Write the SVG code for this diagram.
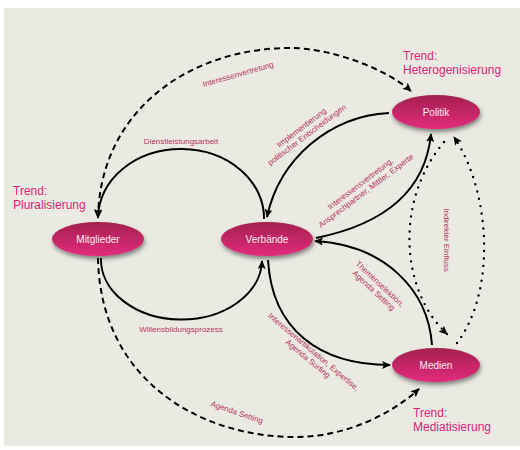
<svg xmlns="http://www.w3.org/2000/svg" width="520" height="450" viewBox="0 0 520 450">
<defs>
<linearGradient id="g" x1="0" y1="0" x2="0" y2="1">
<stop offset="0" stop-color="#A3214E"/>
<stop offset="1" stop-color="#E32B7D"/>
</linearGradient>
<filter id="sh" x="-20%" y="-30%" width="140%" height="180%">
<feDropShadow dx="1" dy="3" stdDeviation="2" flood-color="#333" flood-opacity="0.55"/>
</filter>
<marker id="ah" markerUnits="userSpaceOnUse" markerWidth="10" markerHeight="8" refX="8" refY="4" orient="auto-start-reverse">
<path d="M0,0 L9,4 L0,8 L2,4 z" fill="#000"/>
</marker>
</defs>
<style>
.node{fill:url(#g);filter:url(#sh)}
.nl{font-family:"Liberation Sans",Arial,sans-serif;font-size:10px;fill:#FCEAF1;text-anchor:middle}
.lb{font-family:"Liberation Sans",Arial,sans-serif;font-size:8px;fill:#B5325F;text-anchor:middle}
.tr{font-family:"Liberation Sans",Arial,sans-serif;font-size:12px;fill:#E5207A}
.solid{fill:none;stroke:#000;stroke-width:2}
.dash{fill:none;stroke:#000;stroke-width:2;stroke-dasharray:6 4}
.dot{fill:none;stroke:#000;stroke-width:2.4;stroke-linecap:round;stroke-dasharray:0 7.5}
</style>
<rect x="0" y="0" width="520" height="450" fill="#FFFFFF"/>
<rect x="4" y="8" width="516" height="438" fill="#EBEAE2"/>

<g id="connectors">
<path class="dash" d="M98,218 C100,110 190,48 290,48 C330,48 385,68 411,91" marker-start="url(#ah)" marker-end="url(#ah)"/>
<path class="dash" d="M98,258 C100,380 200,437 295,437 C345,437 390,415 419,389" marker-end="url(#ah)"/>
<path class="solid" d="M264,219 A83,69 0 0 0 98,217" marker-end="url(#ah)"/>
<path class="solid" d="M101,258 A80.5,60 0 0 0 262,261" marker-end="url(#ah)"/>
<path class="solid" d="M389,113 A132,132 0 0 0 267,217" marker-end="url(#ah)"/>
<path class="solid" d="M316,238 C380,225 425,195 431,134" marker-end="url(#ah)"/>
<path class="solid" d="M432,345 C428,290 385,245 315,241" marker-end="url(#ah)"/>
<path class="solid" d="M268,260 C272,330 320,365 390,365" marker-end="url(#ah)"/>
<path class="dot" d="M444,142 C395,200 400,290 447,334" marker-end="url(#ah)"/>
<path class="dot" d="M457,343 C497,290 490,190 454,137" marker-end="url(#ah)"/>
</g>

<g id="labels">
<text class="lb" transform="translate(238,74) rotate(-16)" y="3">Interessenvertretung</text>
<text class="lb" x="181" y="144">Dienstleistungsarbeit</text>
<text class="lb" transform="translate(304,131) rotate(-37)"><tspan x="0" y="-1.5">Implementierung</tspan><tspan x="0" y="7.5">politischer Entscheidungen</tspan></text>
<text class="lb" transform="translate(363,187) rotate(-37)"><tspan x="0" y="-1.5">Interessensvertretung,</tspan><tspan x="0" y="7.5">Ansprechpartner, Mittler, Experte</tspan></text>
<text class="lb" transform="translate(447,240) rotate(90)" y="3">Indirekter Einfluss</text>
<text class="lb" transform="translate(377,287) rotate(43)"><tspan x="0" y="-1.5">Themenselektion,</tspan><tspan x="0" y="7.5">Agenda Setting</tspan></text>
<text class="lb" transform="translate(311,355) rotate(40)"><tspan x="0" y="-1.5">Interessenartikulation, Expertise,</tspan><tspan x="0" y="7.5">Agenda Surfing</tspan></text>
<text class="lb" x="181" y="332">Willensbildungsprozess</text>
<text class="lb" transform="translate(237,412) rotate(19)" y="3">Agenda Setting</text>
</g>

<g id="trends">
<text class="tr" x="403" y="60">Trend:</text>
<text class="tr" x="403" y="74">Heterogenisierung</text>
<text class="tr" x="13" y="195">Trend:</text>
<text class="tr" x="13" y="209">Pluralisierung</text>
<text class="tr" x="413" y="417">Trend:</text>
<text class="tr" x="413" y="431">Mediatisierung</text>
</g>

<g id="politik"><ellipse class="node" cx="436" cy="112" rx="44" ry="17"/><text class="nl" x="436" y="115.5">Politik</text></g>
<g id="mitglieder"><ellipse class="node" cx="98" cy="239" rx="46" ry="17"/><text class="nl" x="98" y="242.5">Mitglieder</text></g>
<g id="verbaende"><ellipse class="node" cx="267" cy="239" rx="46" ry="17"/><text class="nl" x="267" y="242.5">Verbände</text></g>
<g id="medien"><ellipse class="node" cx="436" cy="365" rx="44" ry="17"/><text class="nl" x="436" y="368.5">Medien</text></g>
</svg>
